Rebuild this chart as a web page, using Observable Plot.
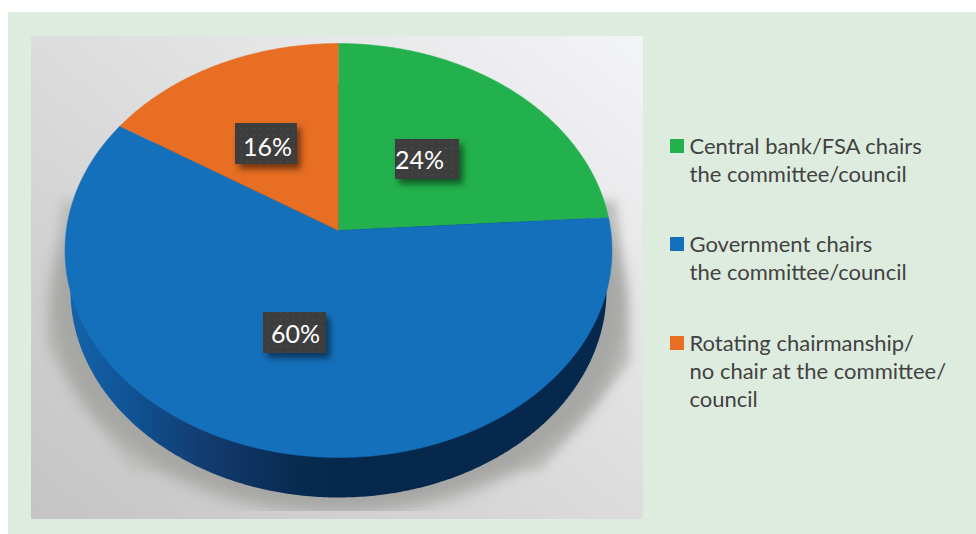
<!DOCTYPE html>
<html>
<head>
<meta charset="utf-8">
<script src="https://cdn.jsdelivr.net/npm/d3@7"></script>
<script src="https://cdn.jsdelivr.net/npm/@observablehq/plot@0.6"></script>
<style>
html,body{margin:0;padding:0;background:#fff;width:976px;height:534px;overflow:hidden}
#page{position:absolute;left:8px;top:12px;right:0;bottom:0;background:#ddecdf}
#inner{position:absolute;left:31px;top:36px;width:612px;height:483px;
 background:linear-gradient(to top right,#c4c4c4 0%,#dcdcdc 50%,#f3f4f6 100%)}
#chart{position:absolute;left:0;top:0}
#chart svg{background:transparent}
</style>
</head>
<body>
<div id="page"></div>
<div id="inner"></div>
<div id="chart"></div>
<script>
// ---- data ----
const categories = ["Central bank/FSA chairs the committee/council",
                    "Government chairs the committee/council",
                    "Rotating chairmanship/no chair at the committee/council"];
const shares = [24, 60, 16];
const shareLabels = ["24%", "60%", "16%"];
const colors = ["#23b14d", "#1570bb", "#e76e22"];
const legendLines = [
  ["Central bank/FSA chairs", "the committee/council"],
  ["Government chairs", "the committee/council"],
  ["Rotating chairmanship/", "no chair at the committee/", "council"]
];

// ---- layout (chart frame units) ----
const hub = {x: 338, y: 230};
const R = 272.2, A = 205.07, K = 0.0966;   // perspective of the disc
const thickness = 40;
const labelBoxes = [
  {x1: 395, x2: 459, y1: 139, y2: 179, tx: 419, ty: 168},
  {x1: 263, x2: 326, y1: 312, y2: 353, tx: 295, ty: 342},
  {x1: 235, x2: 297, y1: 123, y2: 164, tx: 267, ty: 155}
];
const legendTop = [153, 251, 350];
const legendLeading = 28.4;

// project a point on the rim (angle clockwise from 12 o'clock, radians)
function rim(theta, shrink = 1, dy = 0) {
  const u = Math.sin(theta), v = Math.cos(theta), w = 1 + K * v;
  return {x: hub.x + shrink * R * u / w, y: hub.y - A * v / w + dy};
}

// slices
const slices = [];
let acc = 0;
const total = d3.sum(shares);
categories.forEach((c, i) => {
  const a0 = acc / total * 2 * Math.PI;
  acc += shares[i];
  const a1 = acc / total * 2 * Math.PI;
  slices.push({category: c, x: hub.x, y: hub.y});
  const n = Math.ceil((a1 - a0) / 0.01);
  for (let k = 0; k <= n; k++) {
    const p = rim(a0 + (a1 - a0) * k / n);
    slices.push({category: c, x: p.x, y: p.y});
  }
});

const circleAngles = d3.range(0, 2 * Math.PI, 0.01);
const side = circleAngles.map(t => rim(t, 0.98, thickness));
const shadow = circleAngles.map(t => rim(t, 1.05, thickness + 16));
const flare = [{x:60,y:200},{x:46,y:347},{x:130,y:470},{x:540,y:470},{x:630,y:361},{x:616,y:200}];

const labels = labelBoxes.map((b, i) => ({...b, text: shareLabels[i]}));
const legendSwatches = categories.map((c, i) => ({category: c, x1: 670, x2: 684, y1: legendTop[i] - 14, y2: legendTop[i]}));
const legendText = legendLines.flatMap((ls, i) => ls.map((t, j) => ({text: t, x: 689, y: legendTop[i] + j * legendLeading})));

function defs() {
  const s = d3.create("svg:g");
  const d = s.append("defs");
  const g = d.append("linearGradient").attr("id", "band").attr("gradientUnits", "userSpaceOnUse")
    .attr("x1", 64).attr("x2", 340).attr("y1", 0).attr("y2", 0);
  [[0, "#1565ad"], [0.24, "#0f5394"], [0.5, "#133c70"], [0.85, "#072a50"], [1, "#05284c"]]
    .forEach(([o, c]) => g.append("stop").attr("offset", o).attr("stop-color", c));
  const p = d.append("pattern").attr("id", "dots").attr("patternUnits", "userSpaceOnUse").attr("width", 6.6).attr("height", 6.6);
  p.append("rect").attr("width", 6.6).attr("height", 6.6).attr("fill", "#3d3d3d");
  p.append("circle").attr("cx", 3.3).attr("cy", 3.3).attr("r", 1).attr("fill", "#4a4a4a");
  return s.node();
}

const chart = Plot.plot({
  width: 976, height: 534,
  marginLeft: 0, marginRight: 0, marginTop: 0, marginBottom: 23,
  x: {domain: [0, 976], range: [0, 976], axis: null},
  y: {domain: [0, 511], range: [0, 511], axis: null},
  color: {domain: categories, range: colors},
  marks: [
    defs,
    Plot.line(flare, {x: "x", y: "y", fill: "#c0c0be", stroke: "none", imageFilter: "blur(5px)", clip: "frame"}),
    Plot.line(shadow, {x: "x", y: "y", fill: "#a6a6a4", stroke: "none", imageFilter: "blur(8px)", clip: "frame"}),
    Plot.line(side, {x: "x", y: "y", fill: "url(#band)", stroke: "none"}),
    Plot.line(slices, {x: "x", y: "y", z: "category", fill: "category", stroke: "category", strokeWidth: 0.5}),
    Plot.rect(labels, {x1: "x1", x2: "x2", y1: "y1", y2: "y2", inset: 0, fill: "url(#dots)",
      imageFilter: "drop-shadow(4px 5px 3px rgba(0,0,0,0.5))"}),
    Plot.text(labels, {x: "tx", y: "ty", text: "text", fill: "white", fontSize: 25,
      fontFamily: "Lato", lineAnchor: "bottom", textAnchor: "middle"}),
    Plot.rect(legendSwatches, {x1: "x1", x2: "x2", y1: "y1", y2: "y2", fill: "category"}),
    Plot.text(legendText, {x: "x", y: "y", text: "text", fill: "#424242", fontSize: 22,
      fontFamily: "Lato", lineAnchor: "bottom", textAnchor: "start"})
  ]
});
document.getElementById("chart").appendChild(chart);
</script>
</body>
</html>
